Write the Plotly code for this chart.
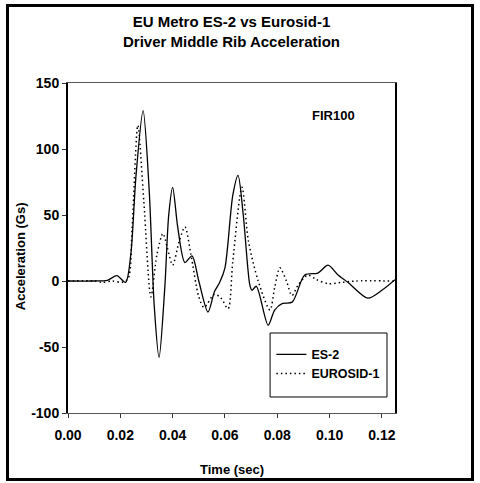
import plotly.graph_objects as go

# ES-2 (solid)
es2_t = [0.000, 0.010, 0.015, 0.0187, 0.022, 0.024, 0.026, 0.0287, 0.031, 0.033, 0.0348,
         0.037, 0.0385, 0.040, 0.042, 0.0447, 0.0474, 0.050, 0.0535, 0.056, 0.058, 0.060,
         0.063, 0.065, 0.067, 0.0695, 0.0703, 0.072, 0.0765, 0.079, 0.082, 0.0857, 0.0905,
         0.0955, 0.0994, 0.103, 0.107, 0.1146, 0.120, 0.125]
es2_v = [0, 0, 0.5, 4, -1, 20, 80, 129, 70, -20, -58,
         -5, 50, 71, 40, 14, 19, 0, -23.5, -8, -1, 10,
         65, 80, 50, -3, -7, -4, -33.5, -22, -17, -16, 4.5,
         6, 12, 5, -1, -13, -7, 1]

# EUROSID-1 (dotted)
euro_t = [0.000, 0.010, 0.0134, 0.017, 0.0206, 0.023, 0.0245, 0.0267, 0.029, 0.0317, 0.034,
          0.0363, 0.038, 0.040, 0.0425, 0.0447, 0.047, 0.050, 0.0520, 0.0560, 0.0585, 0.0612,
          0.063, 0.0665, 0.069, 0.0727, 0.0772, 0.079, 0.081, 0.0835, 0.0856, 0.088, 0.0917,
          0.095, 0.0994, 0.105, 0.110, 0.125]
euro_v = [0, 0, -1, 0, -1, 2, 40, 118, 60, -12, 20,
          36, 25, 12, 30, 41, 20, -12, -20, -10, -13, -21,
          15, 71, 30, 0, -22, -5, 10, 0, -11, -3, 4.5,
          1, -2, -1, 0, 0]

x_ticks = [0.00, 0.02, 0.04, 0.06, 0.08, 0.10, 0.12]
x_labels = ["0.00", "0.02", "0.04", "0.06", "0.08", "0.10", "0.12"]
y_ticks = [-100, -50, 0, 50, 100, 150]
y_labels = ["-100", "-50", "0", "50", "100", "150"]

FONT = "Liberation Sans, Arial, sans-serif"

fig = go.Figure()
fig.add_trace(go.Scatter(x=es2_t, y=es2_v, mode="lines", name="ES-2",
                         line=dict(color="black", width=1.3, shape="spline", smoothing=0.8)))
fig.add_trace(go.Scatter(x=euro_t, y=euro_v, mode="lines", name="EUROSID-1",
                         line=dict(color="black", width=1.5, dash="1.5px,3px",
                                   shape="spline", smoothing=0.8)))

fig.update_layout(
    width=480, height=483,
    margin=dict(l=68, r=85, t=83, b=70),
    paper_bgcolor="white", plot_bgcolor="white",
    font=dict(family=FONT, color="black", size=14),
    title=dict(text="<b>EU Metro ES-2 vs Eurosid-1<br>Driver Middle Rib Acceleration</b>",
               x=0.5, xref="paper", xanchor="center", y=0.944, yanchor="top",
               font=dict(size=15, family=FONT, color="black")),
    xaxis=dict(range=[0, 0.125], tickvals=x_ticks, ticktext=x_labels,
               showline=True, linecolor="#555", linewidth=1, mirror=True,
               ticks="outside", ticklen=4, tickcolor="#333", showgrid=False, zeroline=False,
               ticklabelstandoff=5,
               tickfont=dict(size=14, family=FONT, weight="bold")),
    yaxis=dict(range=[-100, 150], tickvals=y_ticks, ticktext=y_labels,
               showline=True, linecolor="black", linewidth=2, mirror=True,
               ticks="outside", ticklen=4, tickcolor="#333", showgrid=False, zeroline=False,
               tickfont=dict(size=14, family=FONT, weight="bold")),
    showlegend=True,
    legend=dict(x=0.622, y=0.222, xanchor="left", yanchor="top",
                borderwidth=0, bgcolor="rgba(0,0,0,0)",
                font=dict(size=12.5, family=FONT, weight="bold")),
    annotations=[
        dict(text="<b>FIR100</b>", x=0.813, y=0.903, xref="paper", yref="paper",
             xanchor="center", yanchor="middle",
             showarrow=False, font=dict(size=13, family=FONT)),
        dict(text="<b>Time (sec)</b>", x=0.5, y=-0.17, xref="paper", yref="paper",
             xanchor="center", yanchor="middle",
             showarrow=False, font=dict(size=13, family=FONT)),
        dict(text="<b>Acceleration (Gs)</b>", x=-0.147, y=0.475, xref="paper", yref="paper",
             xanchor="center", yanchor="middle",
             showarrow=False, textangle=-90, font=dict(size=13, family=FONT)),
    ],
    shapes=[
        dict(type="rect", xref="paper", yref="paper", x0=0.618, x1=0.9755, y0=0.0485, y1=0.2424,
             line=dict(color="black", width=1), fillcolor="white", layer="below"),
        dict(type="rect", xref="paper", yref="paper", x0=-0.185, x1=1.237, y0=-0.2015, y1=1.2348,
             line=dict(color="black", width=3), fillcolor="rgba(0,0,0,0)", layer="above"),
    ],
)

fig.write_html("out.html")
